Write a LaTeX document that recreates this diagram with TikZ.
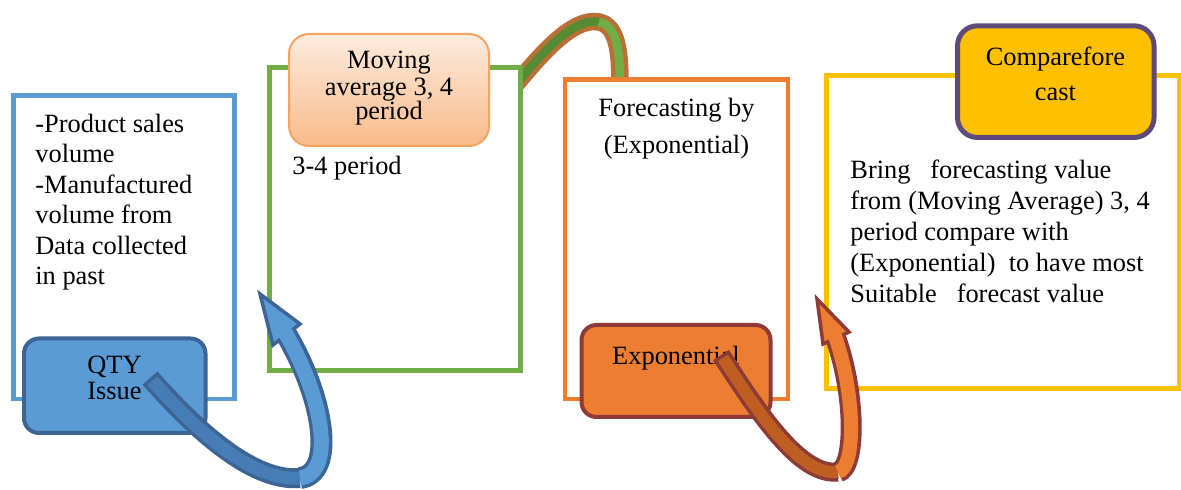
\documentclass[tikz,border=0pt]{standalone}
\usepackage{fontspec}
\setmainfont{Liberation Serif}
\newcommand\txtsize[1]{\fontsize{13.2pt}{#1}\selectfont}
\definecolor{blueline}{HTML}{5B9BD5}
\definecolor{blueedge}{HTML}{3C6494}
\definecolor{bluedark}{HTML}{477CB4}
\definecolor{greenline}{HTML}{70AD47}
\definecolor{greendark}{HTML}{558B32}
\definecolor{bandbrown}{HTML}{B87036}
\definecolor{orangeline}{HTML}{ED7D31}
\definecolor{orangeedge}{HTML}{8E3B38}
\definecolor{orangedark}{HTML}{BE5E22}
\definecolor{peachtop}{HTML}{FDEBDD}
\definecolor{peachbottom}{HTML}{F9BB8B}
\definecolor{peachedge}{HTML}{F4A460}
\definecolor{yellowline}{HTML}{FFC000}
\definecolor{purpleedge}{HTML}{604A7B}
\begin{document}
\begin{tikzpicture}[x=0.5pt,y=-0.5pt,
  frame/.style={draw=#1, line width=2.25pt, fill=white, rectangle, inner sep=0pt},
  tag/.style={rectangle, rounded corners=#1, inner sep=0pt},
  txt/.style={inner sep=0pt, text=black},
]
\useasboundingbox (0,0) rectangle (1181,490);

% band linking the two middle frames (lies behind them)
\coordinate (gS) at (508,94);
\coordinate (gTop) at (599,22);
\coordinate (gE) at (620,86);
\draw[line width=8.75pt, bandbrown] (gS) .. controls (540,55) and (572,17) .. (gTop)
  .. controls (617,26) and (620,50) .. (gE);
\draw[line width=4.25pt, greendark] (gS) .. controls (540,55) and (572,17) .. (gTop);
\draw[line width=4.25pt, greenline] (gTop) .. controls (617,26) and (620,50) .. (gE);

% the four step frames
\node[frame=blueline, minimum width=110.5pt, minimum height=151.75pt] (inbox) at (124,247.25) {};
\node[frame=greenline, minimum width=125.5pt, minimum height=151.5pt] (mabox) at (395,219) {};
\node[frame=orangeline, minimum width=111.5pt, minimum height=159.75pt] (expbox) at (676.5,239.25) {};
\node[frame=yellowline, line width=2.5pt, minimum width=176.5pt, minimum height=156.6pt] (cmpbox) at (1003,232.4) {};

% title tags
\node[tag=7.5pt, fill=blueline, draw=blueedge, line width=2pt,
      minimum width=90.75pt, minimum height=47.25pt] (qty) at (114.75,385.75) {};
\node[tag=10pt, top color=peachtop, bottom color=peachbottom, draw=peachedge, line width=1pt,
      minimum width=100pt, minimum height=56pt] (moving) at (389,90) {};
\node[tag=7.5pt, fill=orangeline, draw=orangeedge, line width=2pt,
      minimum width=94.5pt, minimum height=46pt] (exptag) at (676,371) {};
\node[tag=10pt, fill=yellowline, draw=purpleedge, line width=2.5pt,
      minimum width=98.25pt, minimum height=55.85pt] (cmptag) at (1055.75,81.65) {};

% texts
\node[txt, anchor=north west, align=left, font={\txtsize{15.25pt}}] (intext) at (35,110.65)
  {\strut-Product sales\\volume\\-Manufactured\\volume from\\Data collected\\in past};
\node[txt, anchor=north, align=center, font={\txtsize{12.25pt}}] (movingtext) at (389,50.6)
  {\strut Moving\\average 3, 4\\period};
\node[txt, anchor=base west, font={\txtsize{15pt}}] (periodtext) at (292,175) {3-4 period};
\node[txt, anchor=north, align=center, font={\txtsize{13pt}}] (qtytext) at (114.5,354.8)
  {\strut QTY\\Issue};
\node[txt, anchor=north, align=center, font={\txtsize{18.5pt}}] (fctext) at (676.5,90.1)
  {\strut Forecasting by\\(Exponential)};
\node[txt, anchor=base, font={\txtsize{15pt}}] (exptext) at (676,365) {Exponential};
\node[txt, anchor=north, align=center, font={\txtsize{17.5pt}}] (cmptext) at (1055.5,40.5)
  {\strut Comparefore\\cast};
\node[txt, anchor=north west, align=left, font={\txtsize{15.5pt}}] (bringtext) at (850,156.3)
  {\strut Bring~~~forecasting value\\from (Moving Average) 3, 4\\period compare with\\(Exponential)~~to have most\\Suitable~~~forecast value};

% curved arrow: QTY Issue -> moving average frame
\coordinate (bT) at (150,378);
\coordinate (bB) at (300,478);
\coordinate (bH) at (286,334);
\coordinate (bTip) at (260,294);
\coordinate (bL) at (273,345);
\coordinate (bR) at (300,324);
\draw[line width=10pt, blueedge] (bT) .. controls (200,435) and (255,482) .. (bB);
\draw[line width=6.5pt, bluedark, shorten <=1.75pt] (bT) .. controls (200,435) and (255,482) .. (bB);
\draw[line width=11pt, blueedge] (bB) .. controls (335,474) and (325,400) .. (bH);
\filldraw[fill=blueline, draw=blueedge, line width=1.75pt, line join=miter] (bTip) -- (bL) -- (bR) -- cycle;
\draw[line width=7.5pt, blueline, shorten >=-2pt] (bB) .. controls (335,474) and (325,400) .. (bH);

% curved arrow: Exponential -> compare frame
\coordinate (oT) at (721,355);
\coordinate (oB) at (838,472);
\coordinate (oH) at (835.5,337.5);
\coordinate (oTip) at (817,299);
\coordinate (oL) at (823,344);
\coordinate (oR) at (849,332);
\draw[line width=9.5pt, orangeedge] (oT) .. controls (760,415) and (800,476) .. (oB);
\draw[line width=6pt, orangedark, shorten <=1.75pt] (oT) .. controls (760,415) and (800,476) .. (oB);
\draw[line width=10.5pt, orangeedge] (oB) .. controls (856,468) and (856,395) .. (oH);
\filldraw[fill=orangeline, draw=orangeedge, line width=1.75pt, line join=miter] (oTip) -- (oL) -- (oR) -- cycle;
\draw[line width=7pt, orangeline, shorten >=-2pt] (oB) .. controls (856,468) and (856,395) .. (oH);
\end{tikzpicture}
\end{document}
